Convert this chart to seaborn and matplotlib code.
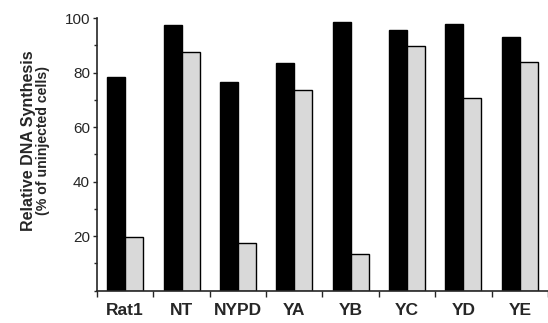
import pandas as pd
import matplotlib
matplotlib.use('Agg')
import matplotlib.pyplot as plt
from matplotlib.ticker import MultipleLocator
import seaborn as sns

# data
constructs = ['Rat1', 'NT', 'NYPD', 'YA', 'YB', 'YC', 'YD', 'YE']
black_vals = [78.5, 97.4, 76.6, 83.6, 98.6, 95.6, 97.8, 93.1]
gray_vals = [19.5, 87.4, 17.5, 73.6, 13.5, 89.8, 70.8, 83.9]
series = ['black', 'gray']

df = pd.DataFrame({
    'construct': constructs * 2,
    'value': black_vals + gray_vals,
    'series': [series[0]] * len(constructs) + [series[1]] * len(constructs),
})

sns.set_style('ticks')
plt.rcParams['font.family'] = ['Liberation Sans', 'DejaVu Sans']

fig = plt.figure(figsize=(5.48, 3.23), dpi=100)
ax = fig.add_axes([0.177, 0.1006, 0.823, 0.8434])

sns.barplot(data=df, x='construct', y='value', hue='series',
            palette=['black', '#d9d9d9'], edgecolor='black', linewidth=1.0,
            width=0.64, legend=False, ax=ax)

ax.set_xlim(-0.5, 7.5)
ax.set_ylim(0, 100)
ax.set_yticks([20, 40, 60, 80, 100])
ax.yaxis.set_minor_locator(MultipleLocator(10))
ax.tick_params(axis='y', which='major', length=3, width=1, labelsize=11, pad=2)
ax.tick_params(axis='y', which='minor', length=2, width=1)
ax.set_xticks([x + 0.5 for x in range(-1, 8)], minor=True)
ax.tick_params(axis='x', which='major', length=0, labelsize=12.5, pad=9)
ax.tick_params(axis='x', which='minor', length=4, width=1)
for lbl in ax.get_xticklabels():
    lbl.set_fontweight('bold')
ax.set_xlabel('')
ax.set_ylabel('')
sns.despine(ax=ax)
for s in ['left', 'bottom']:
    ax.spines[s].set_linewidth(1.2)

fig.text(0.052, 0.565, 'Relative DNA Synthesis', rotation=90, ha='center',
         va='center', fontsize=11.5, fontweight='bold')
fig.text(0.079, 0.565, '(% of uninjected cells)', rotation=90, ha='center',
         va='center', fontsize=10.2, fontweight='bold')

fig.savefig('out.png', dpi=100)
